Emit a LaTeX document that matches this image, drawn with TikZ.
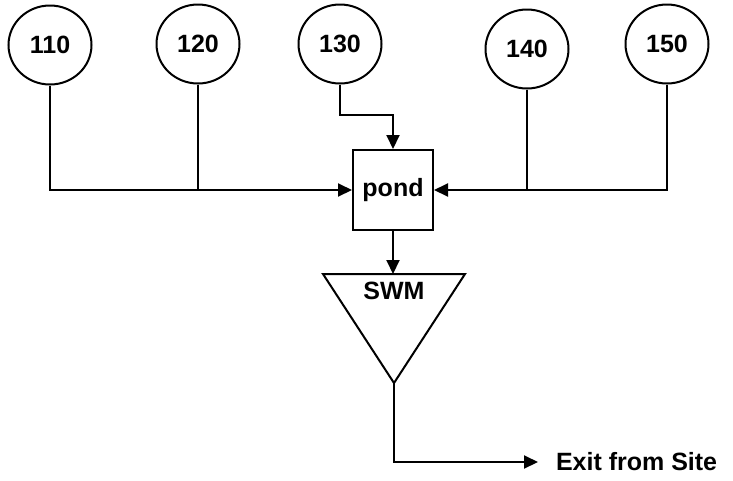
\documentclass[tikz,border=0pt]{standalone}
\usepackage{fontspec}
\setmainfont{Liberation Sans}
\usetikzlibrary{arrows.meta,shapes.geometric}
\begin{document}
\begin{tikzpicture}[x=1pt,y=-1pt,
  line width=2pt,
  every node/.style={font=\fontsize{25}{28}\selectfont\bfseries},
  src/.style={draw,ellipse,minimum width=83pt,minimum height=79pt,inner sep=0pt},
  box/.style={draw,minimum width=80pt,minimum height=80pt,inner sep=0pt},
  arr/.style={-{Triangle[length=14pt,width=13pt]}}]
\useasboundingbox (0,0) rectangle (733,480);
\node[src] (n110) at (50,45) {110};
\node[src] (n120) at (198,44) {120};
\node[src] (n130) at (340,44) {130};
\node[src] (n140) at (527,49) {140};
\node[src] (n150) at (667,44) {150};
\node[box] (pond) at (393,190) {pond};
% SWM triangle
\coordinate (swmL) at (323,274);
\coordinate (swmR) at (465,274);
\coordinate (swmA) at (394,383);
\coordinate (swmT) at (393,274);
\draw[line join=miter] (swmL) -- (swmR) -- (swmA) -- cycle;
\node (swm) at (394,291) {SWM};
% junctions
\coordinate (j120) at (n120.south |- pond.west);
\coordinate (j140) at (n140.south |- pond.east);
\coordinate (k130) at (340,115);
% connectors
\draw[arr] (n110.south) |- (pond.west);
\draw (n120.south) -- (j120);
\draw[arr] (n150.south) |- (pond.east);
\draw (n140.south) -- (j140);
\draw[arr] (n130.south) -- (k130) -| (pond.north);
\draw[arr] (pond.south) -- (swmT);
\coordinate (corner) at (394,462);
\node[anchor=west,inner sep=0pt] (exit) at (555,462) {Exit from Site};
\draw[arr] (swmA) -- (corner) -- ++(144,0) coordinate (exitEnd);
\end{tikzpicture}
\end{document}
